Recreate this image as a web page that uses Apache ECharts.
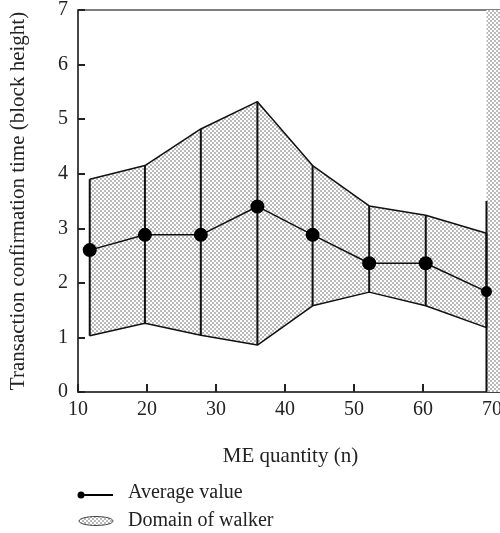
<!DOCTYPE html>
<html>
<head>
<meta charset="utf-8">
<script src="https://cdn.jsdelivr.net/npm/echarts@6/dist/echarts.min.js"></script>
<style>
  html, body { margin: 0; padding: 0; background: #fff; }
  #chart { width: 500px; height: 533px; }
</style>
</head>
<body>
<div id="chart"></div>
<script>
// ME quantity (x)
var meQuantity = [11.7, 19.7, 27.8, 36.0, 44.0, 52.2, 60.4, 69.2];
// average confirmation time
var averageValue = [2.60, 2.88, 2.88, 3.40, 2.88, 2.36, 2.36, 1.84];
// domain of walker, upper and lower bound
var walkerUpper = [3.90, 4.15, 4.82, 5.32, 4.15, 3.41, 3.24, 2.91];
var walkerLower = [1.03, 1.26, 1.04, 0.86, 1.58, 1.83, 1.58, 1.18];
// the band that runs off the right side: x from, x to, y from, y to
var walkerTail = [69.2, 80, 0, 7];
var walkerTailEdge = [69.2, 0, 3.5];
var xTicks = { min: 10, max: 80, interval: 10 };
var yTicks = { min: 0, max: 7, interval: 1 };

var font = "'Liberation Serif', 'DejaVu Serif', serif";

// crosshatch fill
function makeHatch() {
  var c = document.createElement("canvas");
  c.width = 4;
  c.height = 4;
  var ctx = c.getContext("2d");
  ctx.fillStyle = "#bababa";
  ctx.fillRect(0, 0, 4, 4);
  ctx.fillStyle = "#ffffff";
  ctx.fillRect(0, 0, 2, 2);
  ctx.fillRect(2, 2, 2, 2);
  return c;
}
var hatch = { image: makeHatch(), repeat: "repeat" };

var lowerData = meQuantity.map(function (x, i) { return [x, walkerLower[i]]; });
var upperData = meQuantity.map(function (x, i) { return [x, walkerUpper[i]]; });
var meanData = meQuantity.map(function (x, i) { return [x, averageValue[i]]; });
var verticalData = meQuantity.map(function (x, i) { return [x, walkerLower[i], walkerUpper[i]]; });
verticalData.push(walkerTailEdge);

var chart = echarts.init(document.getElementById("chart"));
chart.setOption({
  animation: false,
  grid: {
    left: 78,
    top: 10,
    bottom: 141,
    right: -61,
    containLabel: false,
    outerBoundsMode: "none",
    show: true,
    borderColor: "#555",
    borderWidth: 1.5,
  },
  xAxis: {
    type: "value",
    min: xTicks.min,
    max: xTicks.max,
    interval: xTicks.interval,
    name: "ME quantity (n)",
    nameLocation: "middle",
    nameGap: 54,
    // the plot runs off the right edge, pull the name back to the visible middle
    nameTextStyle: { fontFamily: font, fontSize: 21, color: "#222", padding: [0, 58, 0, 0] },
    axisLine: { lineStyle: { color: "#333", width: 1.5 } },
    axisTick: { inside: true, length: 8, lineStyle: { color: "#222", width: 2 } },
    axisLabel: { fontFamily: font, fontSize: 20, color: "#222", margin: 8 },
    splitLine: { show: false },
  },
  yAxis: {
    type: "value",
    min: yTicks.min,
    max: yTicks.max,
    interval: yTicks.interval,
    name: "Transaction confirmation time (block height)",
    nameLocation: "middle",
    nameGap: 49,
    nameTextStyle: { fontFamily: font, fontSize: 21, color: "#222" },
    axisLine: { lineStyle: { color: "#333", width: 1.5 } },
    axisTick: { inside: true, length: 7, lineStyle: { color: "#222", width: 2 } },
    axisLabel: { fontFamily: font, fontSize: 20, color: "#222", margin: 10 },
    splitLine: { show: false },
  },
  series: [
    {
      name: "Domain of walker",
      type: "custom",
      data: meQuantity.slice(0, -1),
      renderItem: function (params, api) {
        var i = params.dataIndex;
        var pts = [
          api.coord([meQuantity[i], walkerLower[i]]),
          api.coord([meQuantity[i], walkerUpper[i]]),
          api.coord([meQuantity[i + 1], walkerUpper[i + 1]]),
          api.coord([meQuantity[i + 1], walkerLower[i + 1]]),
        ];
        return {
          type: "polygon",
          shape: { points: pts },
          style: { fill: hatch, stroke: null },
        };
      },
      z: 1,
    },
    {
      name: "tail",
      type: "custom",
      data: [walkerTail],
      renderItem: function (params, api) {
        var a = api.coord([api.value(0), api.value(3)]);
        var b = api.coord([api.value(1), api.value(2)]);
        return {
          type: "rect",
          shape: { x: a[0], y: a[1], width: b[0] - a[0], height: b[1] - a[1] },
          style: { fill: hatch },
        };
      },
      z: 1,
    },
    {
      name: "lower",
      type: "line",
      data: lowerData,
      symbol: "none",
      lineStyle: { color: "#111", width: 1.5 },
      z: 2,
    },
    {
      name: "upper",
      type: "line",
      data: upperData,
      symbol: "none",
      lineStyle: { color: "#111", width: 1.5 },
      z: 2,
    },
    {
      name: "verticals",
      type: "custom",
      data: verticalData,
      renderItem: function (params, api) {
        var a = api.coord([api.value(0), api.value(1)]);
        var b = api.coord([api.value(0), api.value(2)]);
        return {
          type: "line",
          shape: { x1: a[0], y1: a[1], x2: b[0], y2: b[1] },
          style: { stroke: "#111", lineWidth: 2 },
        };
      },
      z: 3,
    },
    {
      name: "Average value",
      type: "line",
      data: meanData,
      symbol: "circle",
      symbolSize: function (val, params) {
        return params.dataIndex === meanData.length - 1 ? 11 : 14;
      },
      itemStyle: { color: "#000" },
      lineStyle: { color: "#111", width: 1.5 },
      z: 4,
    },
  ],
  graphic: [
    { type: "circle", shape: { cx: 81, cy: 495, r: 3.5 }, style: { fill: "#000" } },
    { type: "line", shape: { x1: 81, y1: 495, x2: 113, y2: 495 }, style: { stroke: "#000", lineWidth: 2 } },
    {
      type: "text", left: 128, top: 483,
      style: { text: "Average value", font: "20px " + font, fill: "#222" },
    },
    {
      type: "ellipse", shape: { cx: 96, cy: 521, rx: 17, ry: 4.5 },
      style: { fill: hatch, stroke: "#444", lineWidth: 1 },
    },
    {
      type: "text", left: 128, top: 511,
      style: { text: "Domain of walker", font: "20px " + font, fill: "#222" },
    },
  ],
});
</script>
</body>
</html>
